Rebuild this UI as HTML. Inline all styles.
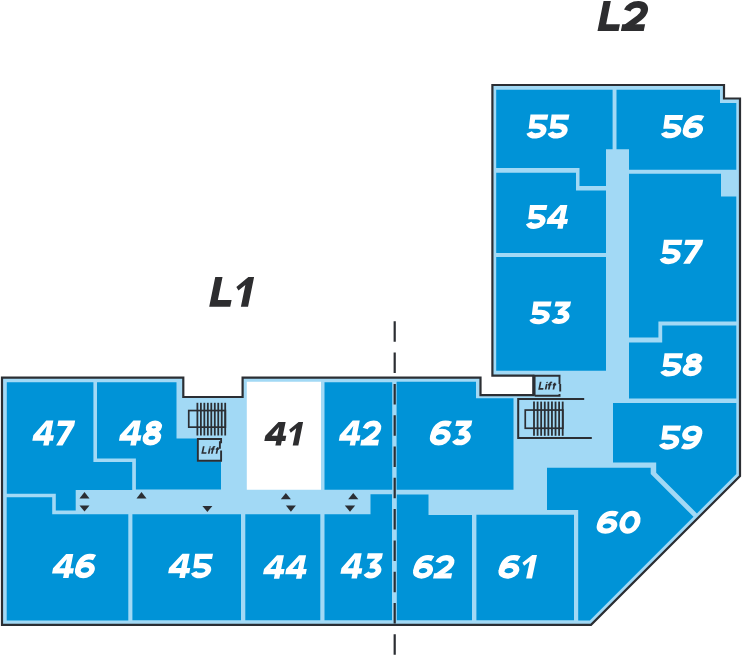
<!DOCTYPE html>
<html><head><meta charset="utf-8"><style>
html,body{margin:0;padding:0;background:#fff;}
svg{display:block;}
text{font-family:"Liberation Sans",sans-serif;font-weight:bold;font-style:italic;}
</style></head><body>
<svg width="742" height="655" viewBox="0 0 742 655">
<polygon points="2,377.7 183.3,377.7 183.3,397 242.6,397 242.6,377.7 480.5,377.7 480.5,395.2 533.3,395.2 533.3,375.7 492.4,375.7 492.4,85 724,85 724,98.5 740,98.5 740,476 591,624.8 2,624.8" fill="#a2d9f5" stroke="#2b2e33" stroke-width="2.2"/>
<polygon points="496.2,89.7 612.6,89.7 612.6,149.3 606,149.3 606,186 579.5,186 579.5,168 496.2,168" fill="#0093d7"/>
<polygon points="496.2,172.7 576,172.7 576,190.5 606,190.5 606,253 496.2,253" fill="#0093d7"/>
<polygon points="496.2,257 606,257 606,370.8 496.2,370.8" fill="#0093d7"/>
<polygon points="616.5,89.7 720,89.7 720,103 736.3,103 736.3,169.7 629,169.7 629,149.3 616.5,149.3" fill="#0093d7"/>
<polygon points="629,173.8 721,173.8 721,196.5 736.3,196.5 736.3,321.6 658.4,321.6 658.4,337.5 629,337.5" fill="#0093d7"/>
<polygon points="629,342.6 662.2,342.6 662.2,325.5 736.3,325.5 736.3,398.6 629,398.6" fill="#0093d7"/>
<polygon points="613,403 736.3,403 736.3,474 696.9,513.4 656.2,472.7 656.2,462.6 613,462.6" fill="#0093d7"/>
<polygon points="547,467.8 650.7,467.8 650.7,474 693.5,516.8 589.8,620.5 578.2,620.5 578.2,510 547,510" fill="#0093d7"/>
<polygon points="6.8,382.3 93.4,382.3 93.4,462.1 132.2,462.1 132.2,490 75.7,490 75.7,510.6 55.8,510.6 55.8,493.7 6.8,493.7" fill="#0093d7"/>
<polygon points="97,382.3 176.5,382.3 176.5,438.5 197,438.5 197,461.3 221,461.3 221,489.5 135.9,489.5 135.9,458.5 97,458.5" fill="#0093d7"/>
<polygon points="324.5,382.3 392.2,382.3 392.2,489.7 324.5,489.7" fill="#0093d7"/>
<polygon points="396.6,381.8 476,381.8 476,398.3 513.5,398.3 513.5,489.7 396.6,489.7" fill="#0093d7"/>
<polygon points="6.7,497.3 52.2,497.3 52.2,514.3 128.3,514.3 128.3,620.5 6.7,620.5" fill="#0093d7"/>
<polygon points="132.4,514.2 241,514.2 241,620.3 132.4,620.3" fill="#0093d7"/>
<polygon points="245.3,514.2 320.3,514.2 320.3,620.3 245.3,620.3" fill="#0093d7"/>
<polygon points="324.5,514.2 370.5,514.2 370.5,494.3 392,494.3 392,620.3 324.5,620.3" fill="#0093d7"/>
<polygon points="396.8,494.6 428.5,494.6 428.5,515 472,515 472,620.3 396.8,620.3" fill="#0093d7"/>
<polygon points="476.4,514.8 574,514.8 574,620.3 476.4,620.3" fill="#0093d7"/>
<polygon points="246.8,381.8 321,381.8 321,489.7 246.8,489.7" fill="#ffffff"/>
<line x1="394.7" y1="321.3" x2="394.7" y2="655" stroke="#2b2e33" stroke-width="2.2" stroke-dasharray="20.5 10.8"/>
<line x1="197.40" y1="402.8" x2="197.40" y2="435.5" stroke="#2b2e33" stroke-width="1.8"/><line x1="200.88" y1="402.8" x2="200.88" y2="435.5" stroke="#2b2e33" stroke-width="1.8"/><line x1="204.35" y1="402.8" x2="204.35" y2="435.5" stroke="#2b2e33" stroke-width="1.8"/><line x1="207.82" y1="402.8" x2="207.82" y2="435.5" stroke="#2b2e33" stroke-width="1.8"/><line x1="211.30" y1="402.8" x2="211.30" y2="435.5" stroke="#2b2e33" stroke-width="1.8"/><line x1="214.78" y1="402.8" x2="214.78" y2="435.5" stroke="#2b2e33" stroke-width="1.8"/><line x1="218.25" y1="402.8" x2="218.25" y2="435.5" stroke="#2b2e33" stroke-width="1.8"/><line x1="221.72" y1="402.8" x2="221.72" y2="435.5" stroke="#2b2e33" stroke-width="1.8"/><line x1="225.20" y1="402.8" x2="225.20" y2="435.5" stroke="#2b2e33" stroke-width="1.8"/><rect x="188.75" y="410.55" width="36.6" height="16.6" fill="none" stroke="#2b2e33" stroke-width="1.7"/>
<line x1="534.00" y1="401.6" x2="534.00" y2="435.8" stroke="#2b2e33" stroke-width="1.8"/><line x1="537.59" y1="401.6" x2="537.59" y2="435.8" stroke="#2b2e33" stroke-width="1.8"/><line x1="541.17" y1="401.6" x2="541.17" y2="435.8" stroke="#2b2e33" stroke-width="1.8"/><line x1="544.76" y1="401.6" x2="544.76" y2="435.8" stroke="#2b2e33" stroke-width="1.8"/><line x1="548.35" y1="401.6" x2="548.35" y2="435.8" stroke="#2b2e33" stroke-width="1.8"/><line x1="551.94" y1="401.6" x2="551.94" y2="435.8" stroke="#2b2e33" stroke-width="1.8"/><line x1="555.53" y1="401.6" x2="555.53" y2="435.8" stroke="#2b2e33" stroke-width="1.8"/><line x1="559.11" y1="401.6" x2="559.11" y2="435.8" stroke="#2b2e33" stroke-width="1.8"/><line x1="562.70" y1="401.6" x2="562.70" y2="435.8" stroke="#2b2e33" stroke-width="1.8"/><rect x="525.25" y="410.05" width="37.6" height="18.2" fill="none" stroke="#2b2e33" stroke-width="1.7"/>
<path d="M584.2,399 H518.2 V437.9 H591.8" fill="none" stroke="#2b2e33" stroke-width="2"/>
<path d="M221.1,438.2 V443.3 M219.9,441.3 V448.7 M221.1,450.4 V461.6 M222,460.75 H197.85 V439.05 H222" fill="none" stroke="#2b2e33" stroke-width="1.9"/>
<path d="M534.6,395.8 V375.8 H560.5 M559.5,375 V384 M560.2,384 V391.5 M559.5,394 V396.6 M560.5,395.8 H534.6" fill="none" stroke="#2b2e33" stroke-width="1.9"/>
<g style="color:#2b2e33" transform="matrix(0.9918 0 0 0.8914 201.424 446.334)"><g transform="matrix(1 0 -0.1944 1 1.59408 0)"><path d="M0.75,0 V7.45 H4.9" fill="none" stroke="currentColor" stroke-width="1.7" stroke-linejoin="miter"/><circle cx="7.3" cy="0.7" r="0.8" fill="currentColor"/><path d="M7.3,2.2 V8.2" fill="none" stroke="currentColor" stroke-width="1.7"/><path d="M12.3,0.9 C11.9,0.6 11.5,0.5 11.1,0.5 C10.7,0.5 10.5,0.9 10.5,1.5 V8.2 M8.7,2.95 H12.1" fill="none" stroke="currentColor" stroke-width="1.7"/><path d="M15.1,0.9 V8.2 M13.5,2.95 H16.9" fill="none" stroke="currentColor" stroke-width="1.7"/></g></g>
<g style="color:#2b2e33" transform="matrix(0.9973 0 0 0.9371 538.325 381.851)"><g transform="matrix(1 0 -0.1944 1 1.59408 0)"><path d="M0.75,0 V7.45 H4.9" fill="none" stroke="currentColor" stroke-width="1.7" stroke-linejoin="miter"/><circle cx="7.3" cy="0.7" r="0.8" fill="currentColor"/><path d="M7.3,2.2 V8.2" fill="none" stroke="currentColor" stroke-width="1.7"/><path d="M12.3,0.9 C11.9,0.6 11.5,0.5 11.1,0.5 C10.7,0.5 10.5,0.9 10.5,1.5 V8.2 M8.7,2.95 H12.1" fill="none" stroke="currentColor" stroke-width="1.7"/><path d="M15.1,0.9 V8.2 M13.5,2.95 H16.9" fill="none" stroke="currentColor" stroke-width="1.7"/></g></g>
<polygon points="84.5,492 89.5,498.5 79.5,498.5" fill="#2b2e33"/>
<polygon points="79.5,505.5 89.5,505.5 84.5,511.5" fill="#2b2e33"/>
<polygon points="141.5,492 146.5,498.5 136.5,498.5" fill="#2b2e33"/>
<polygon points="202.4,505.9 212.4,505.9 207.4,511.9" fill="#2b2e33"/>
<polygon points="285.85,493 290.9,499.2 280.8,499.2" fill="#2b2e33"/>
<polygon points="285.9,505.5 295.9,505.5 290.9,511.7" fill="#2b2e33"/>
<polygon points="353.25,493 358.3,499.2 348.2,499.2" fill="#2b2e33"/>
<polygon points="344.8,505.5 355.2,505.5 350,511.7" fill="#2b2e33"/>
<g style="color:#ffffff" transform="matrix(1.0262 0 0 0.9887 525.374 114.500)"><g transform="matrix(1 0 -0.1944 1 4.6656 0)"><g transform="translate(0 0)"><polygon points="0.3,0 17.7,0 17.7,5.2 5.8,5.2 6.0,9.0 2.0,14.35 1.4,14.35" fill="currentColor"/><path d="M2.0,11.6 H9.2 A7.1 5.0 0 0 1 16.3,16.6 A7.1 5.0 0 0 1 2.53,18.3" fill="none" stroke="currentColor" stroke-width="5.5"/></g><g transform="translate(20.6 0)"><polygon points="0.3,0 17.7,0 17.7,5.2 5.8,5.2 6.0,9.0 2.0,14.35 1.4,14.35" fill="currentColor"/><path d="M2.0,11.6 H9.2 A7.1 5.0 0 0 1 16.3,16.6 A7.1 5.0 0 0 1 2.53,18.3" fill="none" stroke="currentColor" stroke-width="5.5"/></g></g></g>
<g style="color:#ffffff" transform="matrix(1.0426 0 0 0.9600 659.857 115.000)"><g transform="matrix(1 0 -0.1944 1 4.6656 0)"><g transform="translate(0 0)"><polygon points="0.3,0 17.7,0 17.7,5.2 5.8,5.2 6.0,9.0 2.0,14.35 1.4,14.35" fill="currentColor"/><path d="M2.0,11.6 H9.2 A7.1 5.0 0 0 1 16.3,16.6 A7.1 5.0 0 0 1 2.53,18.3" fill="none" stroke="currentColor" stroke-width="5.5"/></g><g transform="translate(20.6 0)"><ellipse cx="9.5" cy="16" rx="6.9" ry="5.4" fill="none" stroke="currentColor" stroke-width="5.5"/><path d="M16.6,3.7 C14.9,3.0 13.1,2.7 11.3,2.7 C5.9,2.7 2.6,7.0 2.6,14.5 L2.6,16.2" fill="none" stroke="currentColor" stroke-width="5.5"/></g></g></g>
<g style="color:#ffffff" transform="matrix(1.0000 0 0 0.9846 525.000 205.000)"><g transform="matrix(1 0 -0.1944 1 4.6656 0)"><g transform="translate(0 0)"><polygon points="0.3,0 17.7,0 17.7,5.2 5.8,5.2 6.0,9.0 2.0,14.35 1.4,14.35" fill="currentColor"/><path d="M2.0,11.6 H9.2 A7.1 5.0 0 0 1 16.3,16.6 A7.1 5.0 0 0 1 2.53,18.3" fill="none" stroke="currentColor" stroke-width="5.5"/></g><g transform="translate(20.6 0)"><path d="M10.1,0 H17.1 V14.2 H20.5 V19.4 H17.1 V24 H11.7 V19.4 H0 V14.2 Z M11.7,5.2 V14.2 H6.2 Z" fill="currentColor" fill-rule="evenodd"/></g></g></g>
<g style="color:#ffffff" transform="matrix(1.0400 0 0 0.9395 528.360 301.500)"><g transform="matrix(1 0 -0.1944 1 4.6656 0)"><g transform="translate(0 0)"><polygon points="0.3,0 17.7,0 17.7,5.2 5.8,5.2 6.0,9.0 2.0,14.35 1.4,14.35" fill="currentColor"/><path d="M2.0,11.6 H9.2 A7.1 5.0 0 0 1 16.3,16.6 A7.1 5.0 0 0 1 2.53,18.3" fill="none" stroke="currentColor" stroke-width="5.5"/></g><g transform="translate(20.6 0)"><polygon points="1.0,0 15.8,0 15.8,4.8 10.4,10.6 4.6,10.6 9.4,5.3 1.0,5.3" fill="currentColor"/><path d="M5.5,11.7 H8.4 A6.2 4.8 0 1 1 3.03,18.9" fill="none" stroke="currentColor" stroke-width="5.5"/></g></g></g>
<g style="color:#ffffff" transform="matrix(1.0634 0 0 1.0051 658.637 239.700)"><g transform="matrix(1 0 -0.1944 1 4.6656 0)"><g transform="translate(0 0)"><polygon points="0.3,0 17.7,0 17.7,5.2 5.8,5.2 6.0,9.0 2.0,14.35 1.4,14.35" fill="currentColor"/><path d="M2.0,11.6 H9.2 A7.1 5.0 0 0 1 16.3,16.6 A7.1 5.0 0 0 1 2.53,18.3" fill="none" stroke="currentColor" stroke-width="5.5"/></g><g transform="translate(20.6 0)"><polygon points="0,0 16.7,0 16.7,4.8 8.8,24 2.4,24 10.4,5.2 0,5.2" fill="currentColor"/></g></g></g>
<g style="color:#ffffff" transform="matrix(1.0658 0 0 0.9559 659.234 353.200)"><g transform="matrix(1 0 -0.1944 1 4.6656 0)"><g transform="translate(0 0)"><polygon points="0.3,0 17.7,0 17.7,5.2 5.8,5.2 6.0,9.0 2.0,14.35 1.4,14.35" fill="currentColor"/><path d="M2.0,11.6 H9.2 A7.1 5.0 0 0 1 16.3,16.6 A7.1 5.0 0 0 1 2.53,18.3" fill="none" stroke="currentColor" stroke-width="5.5"/></g><g transform="translate(20.6 0)"><ellipse cx="8.75" cy="6.5" rx="4.9" ry="3.8" fill="none" stroke="currentColor" stroke-width="5.5"/><ellipse cx="8.75" cy="16.55" rx="6.05" ry="4.75" fill="none" stroke="currentColor" stroke-width="5.5"/></g></g></g>
<g style="color:#ffffff" transform="matrix(1.0333 0 0 0.9918 657.967 425.524)"><g transform="matrix(1 0 -0.1944 1 4.6656 0)"><g transform="translate(0 0)"><polygon points="0.3,0 17.7,0 17.7,5.2 5.8,5.2 6.0,9.0 2.0,14.35 1.4,14.35" fill="currentColor"/><path d="M2.0,11.6 H9.2 A7.1 5.0 0 0 1 16.3,16.6 A7.1 5.0 0 0 1 2.53,18.3" fill="none" stroke="currentColor" stroke-width="5.5"/></g><g transform="translate(20.6 0)"><g transform="rotate(180 9.5 12)"><ellipse cx="9.5" cy="16" rx="6.9" ry="5.4" fill="none" stroke="currentColor" stroke-width="5.5"/><path d="M16.6,3.7 C14.9,3.0 13.1,2.7 11.3,2.7 C5.9,2.7 2.6,7.0 2.6,14.5 L2.6,16.2" fill="none" stroke="currentColor" stroke-width="5.5"/></g></g></g></g>
<g style="color:#ffffff" transform="matrix(1.0602 0 0 0.9451 595.275 510.900)"><g transform="matrix(1 0 -0.1944 1 4.6656 0)"><g transform="translate(0 0)"><ellipse cx="9.5" cy="16" rx="6.9" ry="5.4" fill="none" stroke="currentColor" stroke-width="5.5"/><path d="M16.6,3.7 C14.9,3.0 13.1,2.7 11.3,2.7 C5.9,2.7 2.6,7.0 2.6,14.5 L2.6,16.2" fill="none" stroke="currentColor" stroke-width="5.5"/></g><g transform="translate(20.6 0)"><ellipse cx="9.75" cy="12" rx="7.05" ry="9.3" fill="none" stroke="currentColor" stroke-width="5.5"/></g></g></g>
<g style="color:#ffffff" transform="matrix(1.0065 0 0 1.0333 31.419 420.600)"><g transform="matrix(1 0 -0.1944 1 4.6656 0)"><g transform="translate(0 0)"><path d="M10.1,0 H17.1 V14.2 H20.5 V19.4 H17.1 V24 H11.7 V19.4 H0 V14.2 Z M11.7,5.2 V14.2 H6.2 Z" fill="currentColor" fill-rule="evenodd"/></g><g transform="translate(22.1 0)"><polygon points="0,0 16.7,0 16.7,4.8 8.8,24 2.4,24 10.4,5.2 0,5.2" fill="currentColor"/></g></g></g>
<g style="color:#ffffff" transform="matrix(1.0480 0 0 1.0333 117.983 420.600)"><g transform="matrix(1 0 -0.1944 1 4.6656 0)"><g transform="translate(0 0)"><path d="M10.1,0 H17.1 V14.2 H20.5 V19.4 H17.1 V24 H11.7 V19.4 H0 V14.2 Z M11.7,5.2 V14.2 H6.2 Z" fill="currentColor" fill-rule="evenodd"/></g><g transform="translate(22.1 0)"><ellipse cx="8.75" cy="6.5" rx="4.9" ry="3.8" fill="none" stroke="currentColor" stroke-width="5.5"/><ellipse cx="8.75" cy="16.55" rx="6.05" ry="4.75" fill="none" stroke="currentColor" stroke-width="5.5"/></g></g></g>
<g style="color:#2d2d2f" transform="matrix(1.0211 0 0 0.9792 263.407 421.900)"><g transform="matrix(1 0 -0.1944 1 4.6656 0)"><g transform="translate(0 0)"><path d="M10.1,0 H17.1 V14.2 H20.5 V19.4 H17.1 V24 H11.7 V19.4 H0 V14.2 Z M11.7,5.2 V14.2 H6.2 Z" fill="currentColor" fill-rule="evenodd"/></g><g transform="translate(22.1 0)"><polygon points="0,8 7.7,0 12.1,0 12.1,24 6.6,24 6.6,6.4 2.2,11" fill="currentColor"/></g></g></g>
<g style="color:#ffffff" transform="matrix(1.0029 0 0 1.0333 337.922 420.600)"><g transform="matrix(1 0 -0.1944 1 4.6656 0)"><g transform="translate(0 0)"><path d="M10.1,0 H17.1 V14.2 H20.5 V19.4 H17.1 V24 H11.7 V19.4 H0 V14.2 Z M11.7,5.2 V14.2 H6.2 Z" fill="currentColor" fill-rule="evenodd"/></g><g transform="translate(22.1 0)"><path d="M1.9,7.6 C2.9,4.3 5.6,2.75 9.0,2.75 C12.9,2.75 15.1,5.0 15.1,8.0 C15.1,10.2 14.0,11.8 12.1,13.6 L3.4,21.4" fill="none" stroke="currentColor" stroke-width="5.5" stroke-linecap="butt"/><rect x="0.2" y="18.6" width="17.6" height="5.4" fill="currentColor"/></g></g></g>
<g style="color:#ffffff" transform="matrix(1.0667 0 0 1.0280 428.467 420.600)"><g transform="matrix(1 0 -0.1944 1 4.6656 0)"><g transform="translate(0 0)"><ellipse cx="9.5" cy="16" rx="6.9" ry="5.4" fill="none" stroke="currentColor" stroke-width="5.5"/><path d="M16.6,3.7 C14.9,3.0 13.1,2.7 11.3,2.7 C5.9,2.7 2.6,7.0 2.6,14.5 L2.6,16.2" fill="none" stroke="currentColor" stroke-width="5.5"/></g><g transform="translate(20.6 0)"><polygon points="1.0,0 15.8,0 15.8,4.8 10.4,10.6 4.6,10.6 9.4,5.3 1.0,5.3" fill="currentColor"/><path d="M5.5,11.7 H8.4 A6.2 4.8 0 1 1 3.03,18.9" fill="none" stroke="currentColor" stroke-width="5.5"/></g></g></g>
<g style="color:#ffffff" transform="matrix(1.0192 0 0 1.0073 51.108 553.900)"><g transform="matrix(1 0 -0.1944 1 4.6656 0)"><g transform="translate(0 0)"><path d="M10.1,0 H17.1 V14.2 H20.5 V19.4 H17.1 V24 H11.7 V19.4 H0 V14.2 Z M11.7,5.2 V14.2 H6.2 Z" fill="currentColor" fill-rule="evenodd"/></g><g transform="translate(22.1 0)"><ellipse cx="9.5" cy="16" rx="6.9" ry="5.4" fill="none" stroke="currentColor" stroke-width="5.5"/><path d="M16.6,3.7 C14.9,3.0 13.1,2.7 11.3,2.7 C5.9,2.7 2.6,7.0 2.6,14.5 L2.6,16.2" fill="none" stroke="currentColor" stroke-width="5.5"/></g></g></g>
<g style="color:#ffffff" transform="matrix(1.0309 0 0 1.0051 167.198 553.800)"><g transform="matrix(1 0 -0.1944 1 4.6656 0)"><g transform="translate(0 0)"><path d="M10.1,0 H17.1 V14.2 H20.5 V19.4 H17.1 V24 H11.7 V19.4 H0 V14.2 Z M11.7,5.2 V14.2 H6.2 Z" fill="currentColor" fill-rule="evenodd"/></g><g transform="translate(22.1 0)"><polygon points="0.3,0 17.7,0 17.7,5.2 5.8,5.2 6.0,9.0 2.0,14.35 1.4,14.35" fill="currentColor"/><path d="M2.0,11.6 H9.2 A7.1 5.0 0 0 1 16.3,16.6 A7.1 5.0 0 0 1 2.53,18.3" fill="none" stroke="currentColor" stroke-width="5.5"/></g></g></g>
<g style="color:#ffffff" transform="matrix(1.0029 0 0 0.9792 262.122 555.200)"><g transform="matrix(1 0 -0.1944 1 4.6656 0)"><g transform="translate(0 0)"><path d="M10.1,0 H17.1 V14.2 H20.5 V19.4 H17.1 V24 H11.7 V19.4 H0 V14.2 Z M11.7,5.2 V14.2 H6.2 Z" fill="currentColor" fill-rule="evenodd"/></g><g transform="translate(22.1 0)"><path d="M10.1,0 H17.1 V14.2 H20.5 V19.4 H17.1 V24 H11.7 V19.4 H0 V14.2 Z M11.7,5.2 V14.2 H6.2 Z" fill="currentColor" fill-rule="evenodd"/></g></g></g>
<g style="color:#ffffff" transform="matrix(1.0186 0 0 1.0500 339.509 553.300)"><g transform="matrix(1 0 -0.1944 1 4.6656 0)"><g transform="translate(0 0)"><path d="M10.1,0 H17.1 V14.2 H20.5 V19.4 H17.1 V24 H11.7 V19.4 H0 V14.2 Z M11.7,5.2 V14.2 H6.2 Z" fill="currentColor" fill-rule="evenodd"/></g><g transform="translate(22.1 0)"><polygon points="1.0,0 15.8,0 15.8,4.8 10.4,10.6 4.6,10.6 9.4,5.3 1.0,5.3" fill="currentColor"/><path d="M5.5,11.7 H8.4 A6.2 4.8 0 1 1 3.03,18.9" fill="none" stroke="currentColor" stroke-width="5.5"/></g></g></g>
<g style="color:#ffffff" transform="matrix(1.0247 0 0 0.9824 411.719 555.000)"><g transform="matrix(1 0 -0.1944 1 4.6656 0)"><g transform="translate(0 0)"><ellipse cx="9.5" cy="16" rx="6.9" ry="5.4" fill="none" stroke="currentColor" stroke-width="5.5"/><path d="M16.6,3.7 C14.9,3.0 13.1,2.7 11.3,2.7 C5.9,2.7 2.6,7.0 2.6,14.5 L2.6,16.2" fill="none" stroke="currentColor" stroke-width="5.5"/></g><g transform="translate(20.6 0)"><path d="M1.9,7.6 C2.9,4.3 5.6,2.75 9.0,2.75 C12.9,2.75 15.1,5.0 15.1,8.0 C15.1,10.2 14.0,11.8 12.1,13.6 L3.4,21.4" fill="none" stroke="currentColor" stroke-width="5.5" stroke-linecap="butt"/><rect x="0.2" y="18.6" width="17.6" height="5.4" fill="currentColor"/></g></g></g>
<g style="color:#ffffff" transform="matrix(1.0685 0 0 0.9824 497.064 555.000)"><g transform="matrix(1 0 -0.1944 1 4.6656 0)"><g transform="translate(0 0)"><ellipse cx="9.5" cy="16" rx="6.9" ry="5.4" fill="none" stroke="currentColor" stroke-width="5.5"/><path d="M16.6,3.7 C14.9,3.0 13.1,2.7 11.3,2.7 C5.9,2.7 2.6,7.0 2.6,14.5 L2.6,16.2" fill="none" stroke="currentColor" stroke-width="5.5"/></g><g transform="translate(20.6 0)"><polygon points="0,8 7.7,0 12.1,0 12.1,24 6.6,24 6.6,6.4 2.2,11" fill="currentColor"/></g></g></g>
<g style="color:#2d2d2f" transform="matrix(1.2986 0 0 1.2375 209.200 277.000)"><g transform="matrix(1 0 -0.1944 1 4.6656 0)"><g transform="translate(0 0)"><polygon points="0,0 5.6,0 5.6,18.6 16.2,18.6 16.2,24 0,24" fill="currentColor"/></g><g transform="translate(17.8 0)"><polygon points="0,8 7.7,0 12.1,0 12.1,24 6.6,24 6.6,6.4 2.2,11" fill="currentColor"/></g></g></g>
<g style="color:#2d2d2f" transform="matrix(1.2990 0 0 1.2500 597.500 1.000)"><g transform="matrix(1 0 -0.1944 1 4.6656 0)"><g transform="translate(0 0)"><polygon points="0,0 5.6,0 5.6,18.6 16.2,18.6 16.2,24 0,24" fill="currentColor"/></g><g transform="translate(17.8 0)"><path d="M1.9,7.6 C2.9,4.3 5.6,2.75 9.0,2.75 C12.9,2.75 15.1,5.0 15.1,8.0 C15.1,10.2 14.0,11.8 12.1,13.6 L3.4,21.4" fill="none" stroke="currentColor" stroke-width="5.5" stroke-linecap="butt"/><rect x="0.2" y="18.6" width="17.6" height="5.4" fill="currentColor"/></g></g></g>
</svg></body></html>
